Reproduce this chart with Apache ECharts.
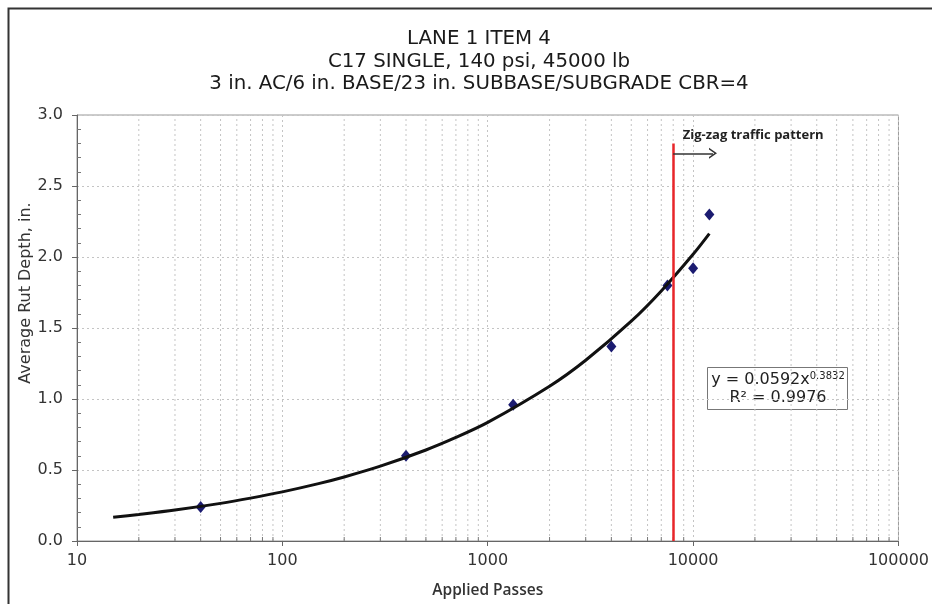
<!DOCTYPE html>
<html><head><meta charset="utf-8">
<script src="https://cdn.jsdelivr.net/npm/echarts@6/dist/echarts.min.js"></script>
<style>html,body{margin:0;padding:0;background:#fff}#c{width:932px;height:604px}</style>
</head><body><div id="c"></div>
<script>
// Measured points
const passes = [40, 400, 1330, 4000, 7500, 10000, 12000];
const rutDepth = [0.24, 0.60, 0.96, 1.37, 1.80, 1.92, 2.30];
// Trend line points
const trendPasses = [15, 20, 30, 50, 70, 100, 150, 200, 300, 500, 700, 1000, 2000, 3000, 5000, 7000, 10000, 12000];
const trendDepth = [0.167, 0.187, 0.218, 0.265, 0.302, 0.346, 0.404, 0.451, 0.527, 0.641, 0.729, 0.835, 1.090, 1.273, 1.548, 1.761, 2.019, 2.165];
// Axis
const xTickLabels = ['10', '100', '1000', '10000', '100000'];
const yTicks = [0, 0.5, 1.0, 1.5, 2.0, 2.5, 3.0];
// Annotation
const zigzagPasses = 8000;
const zigzagTop = 2.8;
const arrowY = 2.73;
const arrowEnd = 12500;

const FONT = "'DejaVu Sans', sans-serif";
const FONT2 = "'Open Sans', 'DejaVu Sans', sans-serif";
const minorVals = [];
for (let d = 10; d < 100000; d *= 10) for (let k = 2; k <= 9; k++) minorVals.push([k * d, 0]);

const chart = echarts.init(document.getElementById('c'), null, {renderer: 'canvas'});
chart.setOption({
  animation: false,
  backgroundColor: '#fff',
  textStyle: {fontFamily: FONT},
  title: {
    text: 'LANE 1 ITEM 4\nC17 SINGLE, 140 psi, 45000 lb\n3 in. AC/6 in. BASE/23 in. SUBBASE/SUBGRADE CBR=4',
    left: 474, top: 23, textAlign: 'center',
    textStyle: {fontFamily: FONT, fontSize: 19.8, fontWeight: 'normal', color: '#1a1a1a', lineHeight: 22.5}
  },
  grid: {left: 77, right: 31, top: 115, bottom: 61, show: true, borderColor: '#999', borderWidth: 1, backgroundColor: 'transparent'},
  xAxis: {
    type: 'log', logBase: 10, min: 10, max: 100000,
    name: 'Applied Passes', nameLocation: 'middle', nameGap: 42,
    nameTextStyle: {fontSize: 15.5, fontWeight: 600, color: '#333', fontFamily: FONT2},
    axisLine: {lineStyle: {color: '#666', width: 1}},
    axisTick: {show: true, length: 5, lineStyle: {color: '#666'}},
    axisLabel: {fontSize: 16, color: '#333', margin: 12, fontFamily: FONT,
      formatter: v => xTickLabels.find(t => Number(t) === Math.round(v)) || ''},
    splitLine: {show: true, lineStyle: {color: '#c4c4c4', type: [2, 3], width: 1}}
  },
  yAxis: {
    type: 'value', min: 0, max: 3, interval: 0.5,
    axisLine: {show: true, lineStyle: {color: '#666', width: 1}},
    axisTick: {show: true, length: 5, lineStyle: {color: '#666'}},
    minorTick: {show: true, splitNumber: 5, length: -4, lineStyle: {color: '#777'}},
    axisLabel: {fontSize: 16, color: '#333', margin: 14, fontFamily: FONT,
      formatter: v => (yTicks.find(t => Math.abs(t - v) < 1e-6) ?? v).toFixed(1)},
    splitLine: {show: true, lineStyle: {color: '#c4c4c4', type: [2, 3], width: 1}}
  },
  graphic: [
    {type: 'rect', shape: {x: 8.5, y: 8.5, width: 1000, height: 1000}, style: {fill: 'none', stroke: '#333', lineWidth: 2}, silent: true, z: 100},
    {type: 'text', x: 26, y: 293, rotation: Math.PI / 2,
      style: {text: 'Average Rut Depth, in.', fontSize: 16, fill: '#333', fontFamily: FONT, align: 'center', verticalAlign: 'middle'}},
    {type: 'group', x: 707, y: 367, z: 50, children: [
      {type: 'rect', shape: {x: 0.5, y: 0.5, width: 140, height: 42}, style: {fill: '#fff', stroke: '#777', lineWidth: 1}},
      {type: 'text', x: 71, y: 13, style: {
        rich: {m: {fontSize: 16, fill: '#222', fontFamily: FONT}, s: {fontSize: 10, fill: '#222', fontFamily: FONT, verticalAlign: 'top', padding: [0, 0, 7, 0]}},
        text: '{m|y = 0.0592x}{s|0.3832}', align: 'center', verticalAlign: 'middle'}},
      {type: 'text', x: 71, y: 31, style: {text: 'R² = 0.9976', fontSize: 16, fill: '#222', fontFamily: FONT, align: 'center', verticalAlign: 'middle'}}
    ]}
  ],
  series: [
    {
      type: 'custom', name: 'minor', silent: true, z: 1,
      data: minorVals, encode: {x: 0, y: 1},
      renderItem: (params, api) => {
        const v = api.value(0);
        const b = api.coord([v, 0]);
        const t = api.coord([v, 3]);
        return {type: 'group', children: [
          {type: 'line', shape: {x1: b[0], y1: b[1], x2: t[0], y2: t[1]}, style: {stroke: '#c4c4c4', lineWidth: 1, lineDash: [2, 3]}},
          {type: 'line', shape: {x1: b[0], y1: b[1], x2: b[0], y2: b[1] - 4}, style: {stroke: '#777', lineWidth: 1}}
        ]};
      }
    },
    {
      type: 'scatter', name: 'Measured', symbol: 'diamond', symbolSize: [10, 12], z: 3,
      itemStyle: {color: '#1B1B70', opacity: 1},
      data: passes.map((p, i) => [p, rutDepth[i]])
    },
    {
      type: 'line', name: 'Trend', smooth: 0.3, showSymbol: false, z: 4,
      lineStyle: {color: '#111', width: 3},
      data: trendPasses.map((p, i) => [p, trendDepth[i]]),
      markLine: {
        silent: true, symbol: 'none', animation: false,
        label: {show: false},
        data: [
          [{coord: [zigzagPasses, 0], lineStyle: {color: '#E8262A', width: 2.5, type: 'solid'}}, {coord: [zigzagPasses, zigzagTop]}],
          [{coord: [zigzagPasses, arrowY], symbol: 'none', lineStyle: {color: '#333', width: 1.5, type: 'solid'}},
           {coord: [arrowEnd, arrowY], symbol: 'path://M5,0 L10,8 L8.4,8 L5,2.6 L1.6,8 L0,8 Z', symbolSize: [11, 8], symbolOffset: [0, 0]}]
        ]
      },
      markPoint: {
        silent: true, symbol: 'circle', symbolSize: 0,
        data: [{coord: [8900, 2.86], value: 'Zig-zag traffic pattern',
          label: {show: true, position: 'right', distance: 0, formatter: 'Zig-zag traffic pattern', fontSize: 13, fontWeight: 'bold', color: '#222', fontFamily: FONT2}}]
      }
    }
  ]
});
</script></body></html>
